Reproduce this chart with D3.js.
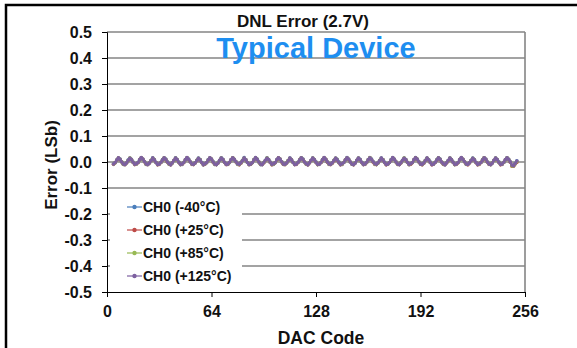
<!DOCTYPE html>
<html><head><meta charset="utf-8">
<script src="https://cdn.jsdelivr.net/npm/d3@7"></script>
<style>
html,body{margin:0;padding:0;background:#fff;}
svg{display:block;font-family:"Liberation Sans",Arial,sans-serif;}
</style></head>
<body><svg id="c" width="577" height="348"></svg>
<script>
const xTicks = [0, 64, 128, 192, 256];
const yTicks = [0.5,0.4,0.3,0.2,0.1,0.0,-0.1,-0.2,-0.3,-0.4,-0.5];
const yTickLabels = ["0.5","0.4","0.3","0.2","0.1","0.0","-0.1","-0.2","-0.3","-0.4","-0.5"];
const seriesNames = ["CH0 (-40°C)","CH0 (+25°C)","CH0 (+85°C)","CH0 (+125°C)"];
const seriesColors = ["#4a7ebb","#be4b48","#98b954","#7d60a0"];
const firstCode = 4;

const dnlM40 = [
-.007,-.003,.007,.015,.011,.001,-.009,-.009,-.004,.008,.015,.010,.000,-.008,-.008,-.001,.008,.016,.010,.002,-.009,-.010,-.003,.007,.016,.009,-.001,-.009,-.007,-.002,.009,.015,.011,.001,-.008,-.010,-.004,.006,.016,.008,.000,-.010,-.009,-.001,.008,.016,.011,.000,-.007,-.008,-.004,.007,.015,.009,-.001,-.011,-.008,-.003,.009,.015,.010,.002,-.009,-.010,-.002,.007,.016,.010,-.001,-.008,-.009,-.003,.008,.015,.008,.001,-.009,-.008,-.002,.007,.017,.009,-.002,-.009,-.007,-.003,.009,.015,.011,.000,-.010,-.010,-.002,.007,.016,.009,.000,-.008,-.009,-.003,.008,.016,.010,.001,-.009,-.008,-.004,.006,.015,.009,-.001,-.009,-.008,-.001,.008,.016,.011,.000,-.008,-.010,-.003,.007,.015,.008,.001,-.010,-.009,-.002,.009,.016,.010,-.001,-.008,-.007,-.003,.007,.015,.010,.001,-.009,-.009,-.002,.008,.017,.009,.000,-.008,-.010,-.004,.007,.015,.010,-.001,-.010,-.008,-.002,.008,.016,.011,.001,-.008,-.009,-.003,.006,.015,.008,.000,-.009,-.008,-.002,.009,.016,.010,.001,-.008,-.010,-.003,.007,.015,.009,-.002,-.010,-.007,-.002,.008,.017,.010,.000,-.008,-.009,-.004,.007,.015,.009,.001,-.009,-.008,-.001,.008,.016,.011,-.001,-.009,-.010,-.003,.006,.015,.008,.000,-.010,-.008,-.002,.009,.016,.010,.001,-.008,-.009,-.003,.007,.015,.009,-.001,-.009,-.008,-.002,.008,.016,.010,.000,-.008,-.010,-.004,.007,.015,.009,.001,-.009,-.008,-.001,.009,.016,.010,.000,-.013,-.013,-.005,.005
];
const dnlP25 = [
-.009,-.003,.007,.015,.009,.000,-.009,-.010,-.004,.006,.014,.009,-.002,-.010,-.008,-.003,.008,.016,.010,.000,-.009,-.010,-.004,.006,.014,.008,-.002,-.011,-.009,-.002,.007,.015,.009,-.001,-.008,-.011,-.004,.006,.014,.008,-.002,-.010,-.009,-.003,.008,.016,.009,.000,-.009,-.010,-.004,.005,.013,.008,-.003,-.011,-.008,-.003,.007,.015,.010,-.001,-.009,-.010,-.004,.006,.014,.009,-.002,-.010,-.009,-.002,.008,.016,.009,.000,-.008,-.011,-.005,.006,.014,.008,-.002,-.010,-.009,-.002,.008,.015,.009,.000,-.009,-.010,-.004,.005,.014,.008,-.003,-.011,-.008,-.003,.007,.016,.010,-.001,-.009,-.010,-.004,.006,.013,.008,-.002,-.010,-.009,-.002,.008,.015,.009,.000,-.008,-.011,-.004,.006,.014,.008,-.002,-.010,-.008,-.003,.007,.016,.010,-.001,-.009,-.010,-.005,.005,.014,.007,-.003,-.011,-.009,-.002,.008,.015,.009,.000,-.008,-.011,-.004,.006,.014,.008,-.002,-.010,-.009,-.003,.008,.016,.009,-.001,-.009,-.010,-.004,.005,.013,.008,-.003,-.011,-.008,-.002,.007,.015,.010,.000,-.009,-.010,-.004,.006,.014,.008,-.002,-.010,-.009,-.003,.008,.016,.009,.000,-.008,-.011,-.005,.006,.014,.007,-.003,-.011,-.008,-.002,.007,.015,.009,-.001,-.009,-.010,-.004,.005,.014,.008,-.002,-.010,-.009,-.003,.008,.015,.010,.000,-.008,-.011,-.004,.006,.013,.008,-.003,-.011,-.009,-.002,.007,.016,.009,-.001,-.009,-.010,-.004,.006,.014,.008,-.002,-.011,-.009,-.002,.008,.015,.009,-.001,-.016,-.016,-.008,-.002
];
const dnlP85 = [
-.008,-.003,.008,.015,.010,.000,-.009,-.010,-.003,.007,.015,.009,-.001,-.009,-.008,-.002,.008,.016,.010,.001,-.009,-.009,-.004,.007,.014,.009,-.002,-.010,-.008,-.002,.008,.016,.010,.000,-.008,-.010,-.004,.006,.015,.008,-.001,-.010,-.008,-.002,.009,.016,.010,.001,-.008,-.009,-.003,.007,.014,.009,-.002,-.010,-.007,-.003,.008,.015,.011,.000,-.009,-.010,-.003,.006,.015,.009,-.001,-.009,-.008,-.002,.008,.016,.010,.001,-.008,-.010,-.004,.007,.014,.008,-.002,-.010,-.008,-.002,.009,.016,.010,.000,-.009,-.009,-.003,.006,.015,.009,-.001,-.010,-.008,-.002,.008,.015,.011,.001,-.008,-.010,-.004,.007,.014,.008,-.002,-.009,-.008,-.001,.008,.016,.010,.000,-.008,-.010,-.003,.006,.015,.009,-.001,-.010,-.007,-.002,.009,.016,.010,.001,-.009,-.009,-.004,.007,.014,.009,-.002,-.010,-.008,-.002,.008,.015,.011,.000,-.008,-.010,-.003,.006,.015,.008,-.001,-.009,-.008,-.002,.009,.017,.010,.001,-.008,-.010,-.004,.007,.014,.009,-.002,-.010,-.008,-.002,.008,.016,.010,.000,-.009,-.009,-.003,.006,.015,.009,-.001,-.010,-.007,-.002,.008,.015,.011,.001,-.008,-.010,-.004,.007,.014,.008,-.002,-.009,-.008,-.001,.009,.016,.010,.000,-.008,-.010,-.003,.006,.015,.009,-.001,-.010,-.008,-.002,.008,.016,.010,.001,-.009,-.009,-.004,.007,.014,.009,-.002,-.010,-.008,-.002,.009,.016,.010,.000,-.008,-.010,-.003,.006,.015,.008,-.001,-.009,-.008,-.002,.008,.016,.010,.001,-.015,-.015,-.007,.001
];
const dnlP125 = [
-.008,-.002,.008,.016,.010,.000,-.008,-.010,-.003,.007,.014,.009,-.001,-.009,-.007,-.002,.009,.017,.011,.001,-.008,-.009,-.004,.006,.015,.008,-.002,-.010,-.008,-.001,.008,.016,.010,.000,-.007,-.011,-.003,.007,.015,.009,-.001,-.009,-.008,-.002,.009,.017,.010,.001,-.008,-.009,-.003,.006,.014,.008,-.002,-.010,-.007,-.002,.008,.016,.011,.000,-.008,-.010,-.004,.007,.015,.009,-.001,-.009,-.008,-.001,.009,.016,.010,.001,-.007,-.009,-.003,.006,.015,.008,-.002,-.010,-.008,-.002,.008,.017,.010,.000,-.008,-.010,-.003,.007,.014,.009,-.001,-.009,-.007,-.002,.009,.016,.011,.001,-.008,-.009,-.004,.006,.015,.008,-.002,-.010,-.008,-.001,.008,.016,.010,.000,-.007,-.011,-.003,.007,.015,.009,-.001,-.009,-.008,-.002,.009,.017,.010,.001,-.008,-.009,-.003,.006,.014,.008,-.002,-.010,-.007,-.002,.008,.016,.011,.000,-.008,-.010,-.004,.007,.015,.009,-.001,-.009,-.008,-.001,.009,.016,.010,.001,-.007,-.009,-.003,.006,.015,.008,-.002,-.010,-.008,-.002,.008,.017,.010,.000,-.008,-.010,-.003,.007,.014,.009,-.001,-.009,-.007,-.002,.009,.016,.011,.001,-.008,-.009,-.004,.006,.015,.008,-.002,-.010,-.008,-.001,.008,.016,.010,.000,-.007,-.011,-.003,.007,.015,.009,-.001,-.009,-.008,-.002,.009,.017,.010,.001,-.008,-.009,-.003,.006,.014,.008,-.002,-.010,-.007,-.002,.008,.016,.011,.000,-.008,-.010,-.004,.007,.015,.009,-.001,-.009,-.008,-.001,.009,.016,.010,.001,-.012,-.014,-.006,.004
];
const seriesValues = [dnlM40, dnlP25, dnlP85, dnlP125];

const svg = d3.select("#c");
const L = 107, R = 525, T = 32, B = 292;
const x = d3.scaleLinear().domain([0,256]).range([L,R]);
const y = d3.scaleLinear().domain([-0.5,0.5]).range([B,T]);
const FONT = "Liberation Sans, Arial, sans-serif";

// outer frame
svg.append("rect").attr("x",6).attr("y",5).attr("width",620).attr("height",400)
  .attr("fill","none").attr("stroke","#000").attr("stroke-width",2.5);

// gridlines
svg.append("g").selectAll("line").data(yTicks.filter(v=>v!==-0.5)).join("line")
  .attr("x1",L).attr("x2",R).attr("y1",d=>y(d)).attr("y2",d=>y(d))
  .attr("stroke","#858585").attr("stroke-width",1.6);
// right border
svg.append("line").attr("x1",R).attr("x2",R).attr("y1",T).attr("y2",B)
  .attr("stroke","#858585").attr("stroke-width",1.6);

// legend background
svg.append("rect").attr("x",110).attr("y",195).attr("width",132).attr("height",96).attr("fill","#fff");

// axes
const yAxis = d3.axisLeft(y).tickValues(yTicks).tickSize(5).tickFormat((d,i)=>yTickLabels[i]);
const gy = svg.append("g").attr("transform",`translate(${L},0)`).call(yAxis);
gy.select(".domain").attr("stroke","#000");
gy.selectAll(".tick line").attr("stroke","#000");
gy.selectAll("text").attr("font-size",16).attr("font-weight","bold").attr("fill","#111")
  .attr("font-family",FONT).attr("x",-15);

const xAxis = d3.axisBottom(x).tickValues(xTicks).tickSize(5).tickFormat(d3.format("d"));
const gx = svg.append("g").attr("transform",`translate(0,${B})`).call(xAxis);
gx.select(".domain").attr("stroke","#000");
gx.selectAll(".tick line").attr("stroke","#000");
gx.selectAll("text").attr("font-size",16).attr("font-weight","bold").attr("fill","#111")
  .attr("font-family",FONT).attr("y",14);

// series
const line = d3.line().x((d,i)=>x(firstCode+i)).y(d=>y(d));
seriesValues.forEach((vals,si)=>{
  const g = svg.append("g");
  g.append("path").datum(vals).attr("d",line).attr("fill","none")
    .attr("stroke",seriesColors[si]).attr("stroke-width",2);
  g.selectAll("circle").data(vals).join("circle")
    .attr("cx",(d,i)=>x(firstCode+i)).attr("cy",d=>y(d)).attr("r",1.8)
    .attr("fill",seriesColors[si]);
});

// legend
const leg = svg.append("g");
const legY = [207, 230, 253, 276];
seriesNames.forEach((n,i)=>{
  leg.append("line").attr("x1",127).attr("x2",142).attr("y1",legY[i]).attr("y2",legY[i])
    .attr("stroke",seriesColors[i]).attr("stroke-width",1.2);
  leg.append("circle").attr("cx",134.5).attr("cy",legY[i]).attr("r",2.2).attr("fill",seriesColors[i]);
  leg.append("text").attr("x",143).attr("y",legY[i]+5).text(n)
    .attr("font-size",14).attr("font-weight","bold").attr("fill","#111");
});

// titles
svg.append("text").attr("x",303).attr("y",27).attr("text-anchor","middle")
  .attr("font-size",17).attr("font-weight","bold").attr("fill","#111").text("DNL Error (2.7V)");
svg.append("text").attr("x",316).attr("y",58).attr("text-anchor","middle")
  .attr("font-size",29).attr("font-weight","bold").attr("fill","#1e8ef0").text("Typical Device");
svg.append("text").attr("x",321).attr("y",344).attr("text-anchor","middle")
  .attr("font-size",17.5).attr("font-weight","bold").attr("fill","#111").text("DAC Code");
svg.append("text").attr("transform","translate(57,165) rotate(-90)").attr("text-anchor","middle")
  .attr("font-size",17).attr("font-weight","bold").attr("fill","#111").text("Error (LSb)");
</script></body></html>
